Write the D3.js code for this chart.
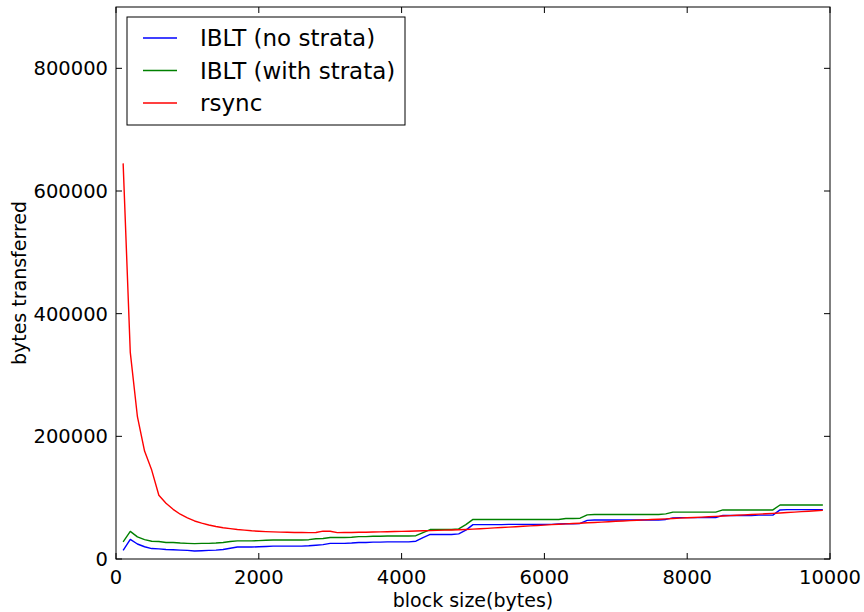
<!DOCTYPE html>
<html>
<head>
<meta charset="utf-8">
<script src="https://cdn.jsdelivr.net/npm/d3@7"></script>
<style>
  body { margin: 0; background: #fff; }
  svg { display: block; }
  .tick-label { font: 19.5px "DejaVu Sans", sans-serif; fill: #000; }
  .axis-title { font: 19px "DejaVu Sans", sans-serif; fill: #000; }
  .legend-text { font: 23px "DejaVu Sans", sans-serif; fill: #000; }
</style>
</head>
<body>
<svg width="864" height="612"></svg>
<script>
// block sizes (bytes)
const blockSizes = [100, 200, 300, 400, 500, 600, 700, 800, 900, 1000,
  1100, 1200, 1300, 1400, 1500, 1600, 1700, 1800, 1900, 2000,
  2100, 2200, 2300, 2400, 2500, 2600, 2700, 2800, 2900, 3000,
  3100, 3200, 3300, 3400, 3500, 3600, 3700, 3800, 3900, 4000,
  4100, 4200, 4300, 4400, 4500, 4600, 4700, 4800, 4900, 5000,
  5100, 5200, 5300, 5400, 5500, 5600, 5700, 5800, 5900, 6000,
  6100, 6200, 6300, 6400, 6500, 6600, 6700, 6800, 6900, 7000,
  7100, 7200, 7300, 7400, 7500, 7600, 7700, 7800, 7900, 8000,
  8100, 8200, 8300, 8400, 8500, 8600, 8700, 8800, 8900, 9000,
  9100, 9200, 9300, 9400, 9500, 9600, 9700, 9800, 9900];

const ibltNoStrata = [14000, 32000, 24500, 20000, 17000, 16500, 15500, 15000, 14500, 14000,
  13000, 13500, 14000, 14500, 15500, 17500, 19500, 19500, 19500, 20000,
  20500, 21000, 21000, 21000, 21000, 21000, 21500, 22500, 23500, 25500,
  25500, 25500, 26000, 27000, 27000, 27500, 27500, 28000, 28000, 28000,
  28000, 29000, 35000, 40000, 40000, 40000, 40000, 41000, 47000, 56000,
  56000, 56000, 56000, 56000, 56500, 56500, 56500, 56500, 56500, 56500,
  56500, 57000, 57500, 57500, 58000, 63000, 63500, 63500, 63500, 63500,
  63500, 63500, 63500, 63500, 63500, 63500, 64500, 67000, 67500, 67500,
  67500, 67500, 67500, 67500, 71000, 71000, 71000, 71000, 71000, 71500,
  71500, 71500, 80000, 80500, 80500, 80500, 80500, 80500, 80500];

const ibltWithStrata = [28000, 45000, 36000, 31500, 29000, 28500, 27000, 27000, 26000, 25500,
  25000, 25500, 25500, 26000, 27000, 28500, 29500, 29500, 29500, 30000,
  30500, 31000, 31000, 31000, 31000, 31000, 31500, 33000, 33500, 35000,
  35000, 35000, 35500, 36500, 36500, 37000, 37000, 37500, 37500, 37500,
  37500, 38000, 43000, 48000, 48000, 48000, 48000, 49000, 56000, 64500,
  64500, 64500, 64500, 64500, 64500, 64500, 64500, 64500, 64500, 64500,
  64500, 64500, 66000, 66000, 66500, 72000, 72500, 72500, 72500, 72500,
  72500, 72500, 72500, 72500, 72500, 72500, 73500, 76500, 76500, 76500,
  76500, 76500, 76500, 76500, 80000, 80000, 80000, 80000, 80000, 80000,
  80000, 80000, 88000, 88000, 88000, 88000, 88000, 88000, 88000];

const rsync = [645000, 337000, 232000, 176000, 145000, 104000, 91000, 81000, 73000, 67000,
  62000, 58500, 55500, 53000, 51000, 49500, 48000, 47000, 46000, 45300,
  44700, 44200, 43800, 43500, 43300, 43100, 43000, 43200, 45500, 45300,
  43000, 43100, 43300, 43500, 43700, 44000, 44200, 44500, 44800, 45000,
  45300, 45600, 46000, 46300, 46700, 47000, 47400, 47800, 48200, 48700,
  49400, 50000, 50700, 51300, 52000, 52600, 53300, 54000, 54600, 55300,
  56000, 56600, 57200, 57800, 58400, 59000, 59600, 60200, 60800, 61500,
  62000, 62600, 63200, 63800, 64300, 64900, 65500, 66000, 66600, 67200,
  67700, 68300, 68900, 69500, 70100, 70700, 71300, 71900, 72500, 73100,
  73800, 74400, 75100, 75800, 76500, 77200, 77900, 78600, 79300];

const xTicks = [0, 2000, 4000, 6000, 8000, 10000];
const yTicks = [0, 200000, 400000, 600000, 800000];

const seriesNames = ["IBLT (no strata)", "IBLT (with strata)", "rsync"];
const seriesColors = ["#0000ff", "#008000", "#ff0000"];
const seriesValues = [ibltNoStrata, ibltWithStrata, rsync];

const svg = d3.select("svg");
const margin = { left: 116, top: 7, right: 34, bottom: 53 };
const width = 864 - margin.left - margin.right,
  height = 612 - margin.top - margin.bottom;

const x = d3.scaleLinear().domain([0, 10000]).range([0, width]);
const y = d3.scaleLinear().domain([0, 900000]).range([height, 0]);

const g = svg.append("g").attr("transform", `translate(${margin.left},${margin.top})`);

// lines
const line = d3.line()
  .x((d, i) => x(blockSizes[i]))
  .y(d => y(d));

g.append("defs").append("clipPath").attr("id", "clip")
  .append("rect").attr("width", width).attr("height", height);

const plot = g.append("g").attr("clip-path", "url(#clip)");
seriesValues.forEach((vals, k) => {
  plot.append("path")
    .datum(vals)
    .attr("fill", "none")
    .attr("stroke", seriesColors[k])
    .attr("stroke-width", 1.4)
    .attr("stroke-linejoin", "round")
    .attr("d", line);
});

// ticks (inside, on all four sides, matplotlib classic style)
const tickLen = 6;
const ticks = g.append("g").attr("stroke", "#000").attr("stroke-width", 1);
xTicks.forEach(t => {
  ticks.append("line").attr("x1", x(t)).attr("x2", x(t)).attr("y1", height).attr("y2", height - tickLen);
  ticks.append("line").attr("x1", x(t)).attr("x2", x(t)).attr("y1", 0).attr("y2", tickLen);
});
yTicks.forEach(t => {
  ticks.append("line").attr("x1", 0).attr("x2", tickLen).attr("y1", y(t)).attr("y2", y(t));
  ticks.append("line").attr("x1", width).attr("x2", width - tickLen).attr("y1", y(t)).attr("y2", y(t));
});

// tick labels
g.selectAll(".xlab").data(xTicks).enter().append("text")
  .attr("class", "tick-label")
  .attr("x", d => x(d))
  .attr("y", height + 25)
  .attr("text-anchor", "middle")
  .text(d => d);

g.selectAll(".ylab").data(yTicks).enter().append("text")
  .attr("class", "tick-label")
  .attr("x", -8)
  .attr("y", d => y(d) + 7)
  .attr("text-anchor", "end")
  .text(d => d);

// frame
g.append("rect")
  .attr("width", width).attr("height", height)
  .attr("fill", "none").attr("stroke", "#000").attr("stroke-width", 1);

// axis titles
svg.append("text").attr("class", "axis-title")
  .attr("x", margin.left + width / 2).attr("y", 607)
  .attr("text-anchor", "middle")
  .text("block size(bytes)");

svg.append("text").attr("class", "axis-title")
  .attr("transform", `translate(26,${margin.top + height / 2}) rotate(-90)`)
  .attr("text-anchor", "middle")
  .text("bytes transferred");

// legend
const legend = svg.append("g").attr("transform", "translate(127,17)");
legend.append("rect").attr("width", 278).attr("height", 108)
  .attr("fill", "#fff").attr("stroke", "#000").attr("stroke-width", 1);
seriesNames.forEach((name, k) => {
  const ly = 21 + k * 32.5;
  legend.append("line").attr("x1", 16).attr("x2", 50).attr("y1", ly).attr("y2", ly)
    .attr("stroke", seriesColors[k]).attr("stroke-width", 1.4);
  legend.append("text").attr("class", "legend-text")
    .attr("x", 73).attr("y", ly + 8).text(name);
});
</script>
</body>
</html>
